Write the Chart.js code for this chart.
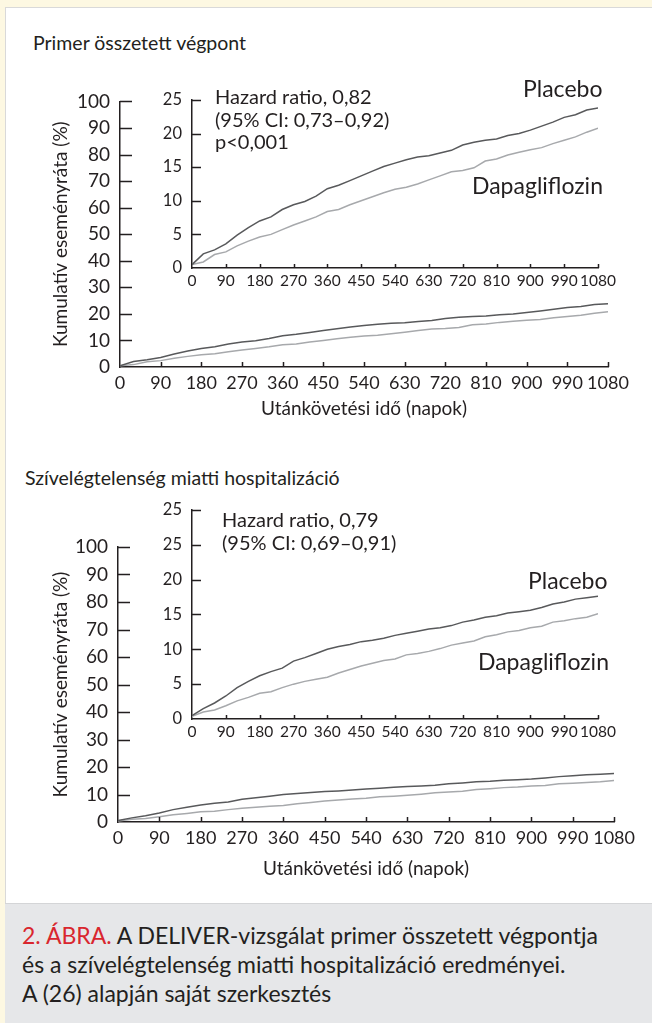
<!DOCTYPE html>
<html>
<head>
<meta charset="utf-8">
<script src="https://cdn.jsdelivr.net/npm/chart.js@4"></script>
<style>
  body { margin: 0; background: #fdf8e2; font-family: Lato, sans-serif; color: #231f20; }
  #page { position: relative; width: 652px; height: 1023px; overflow: hidden; }
  #panel { position: absolute; left: 5px; top: 7px; right: 0; bottom: 0; background: #fff;
           border-left: 1px solid #d9d9d9; border-top: 1px solid #d9d9d9; }
  canvas { position: absolute; }
  .txt { position: absolute; white-space: nowrap; }
  .h { font-size: 19.5px; line-height: 22px; }
  .hr { font-size: 20px; line-height: 22.5px; }
  .lbl { font-size: 23px; line-height: 25px; }
  #caption { position: absolute; left: 5px; top: 903px; right: 0; bottom: 0; background: #e6e7e9;
             border-top: 1px solid #d4d5d7; }
  #caption div { position: absolute; left: 17px; top: 17px; font-size: 23px; line-height: 29px; }
  #caption span { color: #d9262e; }
</style>
</head>
<body>
<div id="page">
  <div id="panel"></div>

  <div class="txt h" style="left:33px; top:32px;">Primer összetett végpont</div>
  <canvas id="outer1" width="640" height="350" style="left:0; top:80px;"></canvas>
  <canvas id="inner1" width="480" height="215" style="left:140px; top:80px;"></canvas>
  <div class="txt hr" style="left:215px; top:85px;">Hazard ratio, 0,82<br>(95% CI: 0,73–0,92)<br>p&lt;0,001</div>
  <div class="txt lbl" style="left:523px; top:76px;">Placebo</div>
  <div class="txt lbl" style="left:472px; top:173px;">Dapagliflozin</div>

  <div class="txt h" style="left:25px; top:467px;">Szívelégtelenség miatti hospitalizáció</div>
  <canvas id="outer2" width="640" height="370" style="left:0; top:520px;"></canvas>
  <canvas id="inner2" width="480" height="255" style="left:140px; top:490px;"></canvas>
  <div class="txt hr" style="left:222px; top:508px;">Hazard ratio, 0,79<br>(95% CI: 0,69–0,91)</div>
  <div class="txt lbl" style="left:528px; top:568px;">Placebo</div>
  <div class="txt lbl" style="left:478px; top:649px;">Dapagliflozin</div>

  <div id="caption"><div><span>2. ÁBRA.</span> A DELIVER-vizsgálat primer összetett végpontja<br>és a szívelégtelenség miatti hospitalizáció eredményei.<br>A (26) alapján saját szerkesztés</div></div>
</div>

<script>
// follow-up days (x)
const days = [0, 30, 60, 90, 120, 150, 180, 210, 240, 270, 300, 330, 360, 390, 420, 450, 480, 510, 540,
              570, 600, 630, 660, 690, 720, 750, 780, 810, 840, 870, 900, 930, 960, 990, 1020, 1050, 1080];

// primary composite endpoint (%)
const placebo1 = [0.5, 2.1, 2.7, 3.6, 4.9, 6.0, 7.0, 7.6, 8.7, 9.4, 9.9, 10.7, 11.8, 12.3, 13.0, 13.7, 14.4, 15.1, 15.6,
                  16.1, 16.5, 16.7, 17.1, 17.5, 18.3, 18.7, 19.0, 19.2, 19.7, 20.0, 20.5, 21.1, 21.7, 22.4, 22.8, 23.5, 23.8];
const dapa1 = [0.5, 0.9, 2.0, 2.4, 3.3, 4.0, 4.6, 5.0, 5.7, 6.4, 7.0, 7.6, 8.4, 8.7, 9.4, 10.0, 10.6, 11.2, 11.7,
               12.0, 12.5, 13.1, 13.7, 14.3, 14.5, 14.9, 15.9, 16.2, 16.8, 17.2, 17.6, 17.9, 18.5, 19.0, 19.5, 20.2, 20.8];

// heart failure hospitalisation (%)
const placebo2 = [0.5, 1.5, 2.3, 3.3, 4.5, 5.4, 6.2, 6.8, 7.3, 8.3, 8.8, 9.4, 10.0, 10.4, 10.7, 11.1, 11.3, 11.6, 12.0,
                  12.3, 12.6, 12.9, 13.1, 13.4, 13.9, 14.2, 14.6, 14.8, 15.2, 15.4, 15.6, 16.0, 16.5, 16.8, 17.2, 17.4, 17.6];
const dapa2 = [0.4, 1.0, 1.3, 1.9, 2.6, 3.1, 3.7, 3.9, 4.5, 5.0, 5.4, 5.7, 6.0, 6.6, 7.1, 7.6, 8.0, 8.4, 8.6,
               9.2, 9.4, 9.7, 10.1, 10.6, 10.9, 11.2, 11.8, 12.1, 12.5, 12.7, 13.1, 13.3, 13.9, 14.1, 14.4, 14.6, 15.1];

// inset y labels of the second chart (the top one repeats "25" in the original)
const inner2YLabels = ['0', '5', '10', '15', '20', '25', '25'];

const ink = '#231f20';
Chart.defaults.font.family = 'Lato, sans-serif';
Chart.defaults.color = ink;

// small inward tick marks like in the print figure
const tickMarks = {
  id: 'tickMarks',
  afterDraw(chart, args, opts) {
    const ctx = chart.ctx;
    const x = chart.scales.x, y = chart.scales.y;
    ctx.save();
    ctx.strokeStyle = ink;
    ctx.lineWidth = 1.5;
    ctx.beginPath();
    y.ticks.forEach((t, i) => {
      if (i === 0) return;
      const py = Math.round(y.getPixelForTick(i)) + 0.5;
      ctx.moveTo(x.left, py);
      ctx.lineTo(x.left + opts.yLen, py);
    });
    x.ticks.forEach((t, i) => {
      if (i === 0) return;
      const px = Math.round(x.getPixelForTick(i)) + 0.5;
      ctx.moveTo(px, y.bottom);
      ctx.lineTo(px, y.bottom - opts.xLen);
    });
    ctx.stroke();
    ctx.restore();
  }
};

function pts(vals) {
  return days.map((d, i) => ({x: d, y: vals[i]}));
}

function makeChart(id, cfg) {
  return new Chart(document.getElementById(id), {
    type: 'line',
    data: {
      datasets: [
        {label: 'Placebo', data: pts(cfg.placebo), borderColor: '#58595b', borderWidth: 1.5, pointRadius: 0, tension: 0},
        {label: 'Dapagliflozin', data: pts(cfg.dapa), borderColor: '#a7a9ac', borderWidth: 1.5, pointRadius: 0, tension: 0}
      ]
    },
    options: {
      responsive: false,
      animation: false,
      layout: {padding: cfg.padding},
      plugins: {legend: {display: false}, tooltip: {enabled: false}, tickMarks: cfg.marks},
      scales: {
        x: {
          type: 'linear', min: 0, max: 1080,
          grid: {display: false, drawTicks: false},
          border: {color: ink, width: 1.5},
          ticks: {stepSize: 90, autoSkip: false, maxRotation: 0, padding: cfg.xPad, font: {size: cfg.tickSize},
                  callback: v => String(v)},
          title: cfg.xTitle ? {display: true, text: 'Utánkövetési idő (napok)', font: {size: 19}, padding: 0} : {display: false},
          afterFit: s => { s.height = cfg.xHeight; }
        },
        y: {
          min: 0, max: cfg.yMax,
          grid: {display: false, drawTicks: false},
          border: {color: ink, width: 1.5},
          ticks: {stepSize: cfg.yStep, padding: cfg.yPad, font: {size: cfg.yTickSize},
                  callback: cfg.yLabels ? (v, i) => cfg.yLabels[i] : v => String(v)},
          title: cfg.yTitle ? {display: true, text: 'Kumulatív eseményráta (%)', font: {size: 19}, padding: {top: 49, bottom: 0}} : {display: false},
          afterFit: s => { s.width = cfg.yWidth; }
        }
      }
    },
    plugins: [tickMarks]
  });
}

makeChart('outer1', {
  placebo: placebo1, dapa: dapa1, yMax: 100, yStep: 10,
  padding: {left: 0, right: 32, top: 16, bottom: 10},
  xHeight: 53, yWidth: 120, xPad: 5, yPad: 10, tickSize: 18, yTickSize: 19,
  xTitle: true, yTitle: true, marks: {yLen: 12, xLen: 5}
});
makeChart('inner1', {
  placebo: placebo1, dapa: dapa1, yMax: 25, yStep: 5,
  padding: {left: 0, right: 20, top: 15, bottom: 0},
  xHeight: 27, yWidth: 52, xPad: 4, yPad: 10, tickSize: 15.5, yTickSize: 16.5,
  marks: {yLen: 9, xLen: 4}
});
makeChart('outer2', {
  placebo: placebo2, dapa: dapa2, yMax: 100, yStep: 10,
  padding: {left: 0, right: 25, top: 27, bottom: 10},
  xHeight: 58, yWidth: 118, xPad: 5, yPad: 10, tickSize: 18, yTickSize: 19,
  xTitle: true, yTitle: true, marks: {yLen: 12, xLen: 5}
});
makeChart('inner2', {
  placebo: placebo2, dapa: dapa2, yMax: 30, yStep: 5, yLabels: inner2YLabels,
  padding: {left: 0, right: 13, top: 18, bottom: 0},
  xHeight: 26, yWidth: 52, xPad: 4, yPad: 10, tickSize: 15.5, yTickSize: 16.5,
  marks: {yLen: 9, xLen: 4}
});
</script>
</body>
</html>
